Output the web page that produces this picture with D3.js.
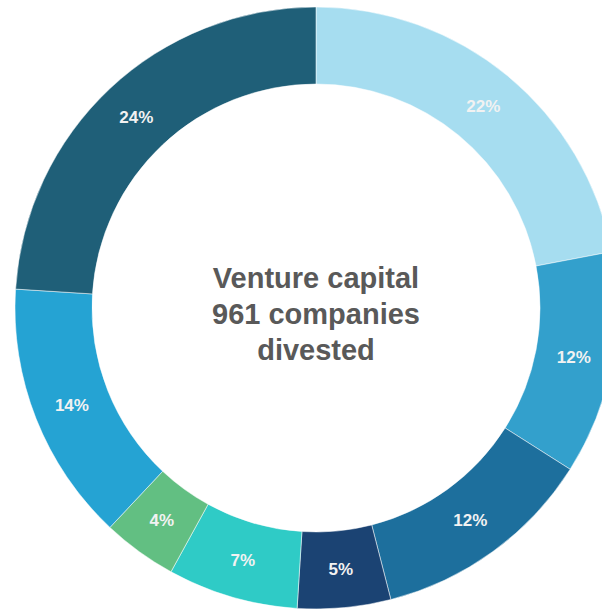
<!DOCTYPE html>
<html>
<head>
<meta charset="utf-8">
<script src="https://cdn.jsdelivr.net/npm/d3@7"></script>
<style>
  body { margin: 0; background: #fff; }
  svg { display: block; }
</style>
</head>
<body>
<div id="chart"></div>
<script>
// shares of divested companies, clockwise from 12 o'clock
var shares = [22, 12, 12, 5, 7, 4, 14, 24];
var colors = ['#a6ddf0', '#33a0cc', '#1d6f9d', '#1b4373', '#2fcbc6', '#62bf82', '#25a3d3', '#1f5f78'];
var centerLines = ['Venture capital', '961 companies', 'divested'];

var width = 602, height = 610;
var cx = 316, cy = 308,
  outerR = 301, innerR = 224;

var svg = d3.select('#chart')
  .append('svg')
  .attr('width', width)
  .attr('height', height)

var g = svg.append('g')
  .attr('transform', 'translate(' + cx + ',' + cy + ')');

var pie = d3.pie()
  .sort(null)
  .value(d => d);

var arc = d3.arc()
  .innerRadius(innerR)
  .outerRadius(outerR);

var labelArc = d3.arc()
  .innerRadius((innerR + outerR) / 2)
  .outerRadius((innerR + outerR) / 2);

var arcs = pie(shares);

g.selectAll('.slice')
  .data(arcs)
  .enter()
  .append('path')
  .attr('class', 'slice')
  .attr('d', arc)
  .attr('fill', (d, i) => colors[i])
  .attr('stroke', '#fff')
  .attr('stroke-width', 0.5);

g.selectAll('.pct')
  .data(arcs)
  .enter()
  .append('text')
  .attr('class', 'pct')
  .attr('transform', d => 'translate(' + labelArc.centroid(d) + ')')
  .attr('text-anchor', 'middle')
  .attr('dy', '0.36em')
  .style('font-family', "'Liberation Sans', Arial, sans-serif")
  .style('font-weight', 'bold')
  .style('font-size', '17px')
  .style('fill', '#f2f2f2')
  .text(d => d.data + '%');

// centre title
g.selectAll('.center')
  .data(centerLines)
  .enter()
  .append('text')
  .attr('class', 'center')
  .attr('x', 0)
  .attr('y', (d, i) => 6 + (i - 1) * 36)
  .attr('dy', '0.35em')
  .attr('text-anchor', 'middle')
  .style('font-family', "'Liberation Sans', Arial, sans-serif")
  .style('font-weight', 'bold')
  .style('font-size', '29px')
  .style('fill', '#595959')
  .text(d => d);
</script>
</body>
</html>
